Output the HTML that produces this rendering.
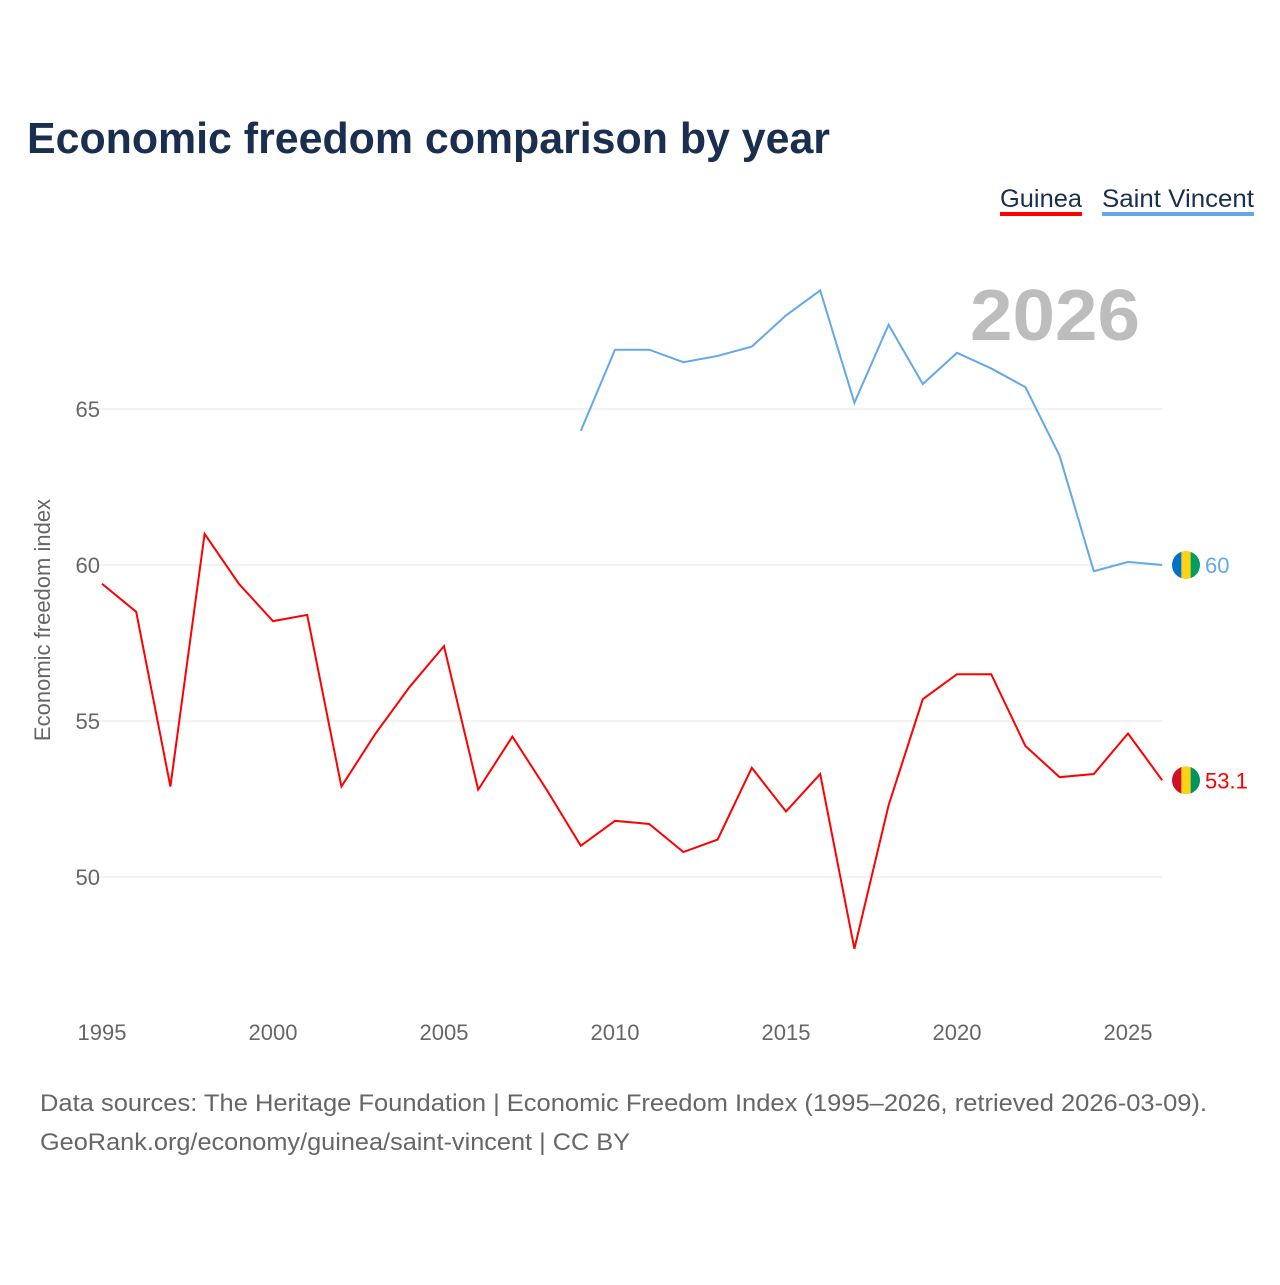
<!DOCTYPE html>
<html><head><meta charset="utf-8"><style>
body{margin:0;background:#fff;font-family:"Liberation Sans",sans-serif}
svg text{font-family:"Liberation Sans",sans-serif}
</style></head><body>
<svg id="chart" width="1280" height="1280">
<rect width="1280" height="1280" fill="#fff"/>
<text x="27" y="153" font-size="44" font-weight="bold" fill="#1a2e4f" textLength="803" lengthAdjust="spacingAndGlyphs">Economic freedom comparison by year</text>
<g>
<text x="1000" y="207" font-size="25" fill="#1a2e4f" textLength="82" lengthAdjust="spacingAndGlyphs">Guinea</text>
<rect x="1000" y="212" width="82" height="4" fill="#ff0000"/>
<text x="1102" y="207" font-size="25" fill="#1a2e4f" textLength="152" lengthAdjust="spacingAndGlyphs">Saint Vincent</text>
<rect x="1102" y="212" width="152" height="4" fill="#63a8e8"/>
</g>
<text x="1140" y="340" text-anchor="end" font-size="72" font-weight="bold" fill="#bdbdbd" textLength="170" lengthAdjust="spacingAndGlyphs">2026</text>
<g id="grid"></g><g id="xt"></g><g id="lines"></g>
<text transform="translate(50,620) rotate(-90)" text-anchor="middle" font-size="22" fill="#666">Economic freedom index</text>
<text x="40" y="1111" font-size="24" fill="#666" textLength="1167" lengthAdjust="spacingAndGlyphs">Data sources: The Heritage Foundation | Economic Freedom Index (1995–2026, retrieved 2026-03-09).</text>
<text x="40" y="1150" font-size="24" fill="#666" textLength="590" lengthAdjust="spacingAndGlyphs">GeoRank.org/economy/guinea/saint-vincent | CC BY</text>
</svg>
<script>
const years=[1995,1996,1997,1998,1999,2000,2001,2002,2003,2004,2005,2006,2007,2008,2009,2010,2011,2012,2013,2014,2015,2016,2017,2018,2019,2020,2021,2022,2023,2024,2025,2026];
const guinea=[59.4,58.5,52.9,61.0,59.4,58.2,58.4,52.9,54.6,56.1,57.4,52.8,54.5,52.8,51.0,51.8,51.7,50.8,51.2,53.5,52.1,53.3,47.7,52.3,55.7,56.5,56.5,54.2,53.2,53.3,54.6,53.1];
const svYears=[2009,2010,2011,2012,2013,2014,2015,2016,2017,2018,2019,2020,2021,2022,2023,2024,2025,2026];
const saintVincent=[64.3,66.9,66.9,66.5,66.7,67.0,68.0,68.8,65.2,67.7,65.8,66.8,66.3,65.7,63.5,59.8,60.1,60.0];
const yTicks=[50,55,60,65];
const xTicks=[1995,2000,2005,2010,2015,2020,2025];
const NS="http://www.w3.org/2000/svg";
const x=y=>102+(y-1995)*34.2;
const yv=v=>565-(v-60)*31.2;
function el(t,a,p){const e=document.createElementNS(NS,t);for(const k in a)e.setAttribute(k,a[k]);document.getElementById(p)?document.getElementById(p).appendChild(e):p.appendChild(e);return e;}
yTicks.forEach(t=>{
 const l=el('line',{x1:85,x2:1162,y1:yv(t),y2:yv(t),stroke:'#e6e6e6','stroke-width':1},'grid');
 
 
 const tx=el('text',{x:100,y:yv(t)+8,'text-anchor':'end','font-size':22,fill:'#666'},'grid');
 tx.textContent=t;
 
 
});
xTicks.forEach(t=>{
 const tx=el('text',{x:x(t),y:1040,'text-anchor':'middle','font-size':22,fill:'#666'},'xt');
 tx.textContent=t;
 
 
});
function line(xs,vs,c,name){
 const p=el('path',{d:xs.map((yr,i)=>(i?'L':'M')+x(yr)+','+yv(vs[i])).join(''),fill:'none',stroke:c,'stroke-width':2},'lines');
 
 
}
line(years,guinea,'#ff0000','guinea-line');
line(svYears,saintVincent,'#63a8e8','saint-vincent-line');
function flag(v,cols,label,c,name){
 const cy=yv(v),cx=1186;
 const g=el('g',{},'lines');
 
 
 const cp=el('clipPath',{id:'c'+name},g);el('circle',{cx:cx,cy:cy,r:14},cp);
 cols.forEach((col,i)=>el('rect',{x:cx-14+i*28/3,y:cy-14,width:28/3+0.5,height:28,fill:col,'clip-path':'url(#c'+name+')'},g));
 const t=el('text',{x:1205,y:cy+8,'font-size':22,fill:c},g);t.textContent=label;
}
flag(saintVincent[saintVincent.length-1],['#0072c6','#fcd116','#009e60'],'60','#63a8e8','saint-vincent-end-label');
flag(guinea[guinea.length-1],['#ce1126','#fcd116','#009460'],'53.1','#ff0000','guinea-end-label');
</script>
</body></html>
